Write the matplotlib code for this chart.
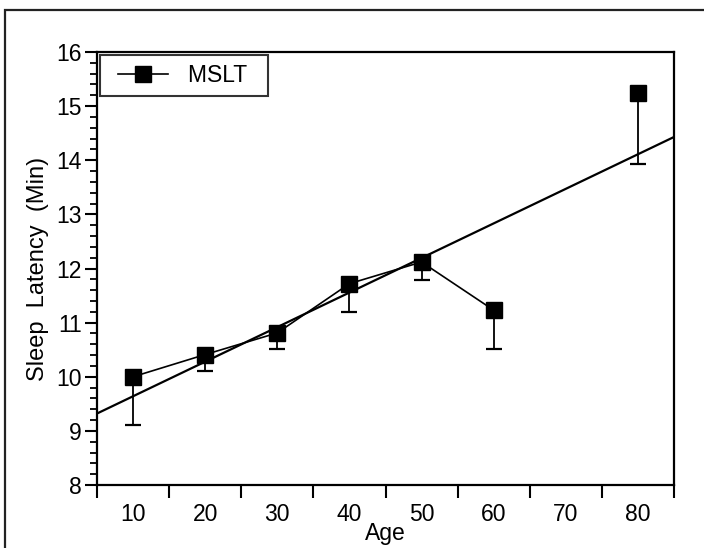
import numpy as np
import matplotlib
matplotlib.use("Agg")
import matplotlib.pyplot as plt
from matplotlib.patches import Rectangle
from matplotlib.ticker import MultipleLocator, FixedLocator
from matplotlib.legend_handler import HandlerLine2D

plt.rcParams['font.family'] = ['Liberation Sans', 'DejaVu Sans']

# values
ages = [10, 20, 30, 40, 50, 60, 70, 80]
mslt_mean = [10.0, 10.41, 10.81, 11.72, 12.12, 11.23, np.nan, 15.24]
mslt_lower = [9.10, 10.10, 10.51, 11.19, 11.78, 10.52, np.nan, 13.93]
age_labels = ["10", "20", "30", "40", "50", "60", "70", "80"]

x = np.array(ages, dtype=float)
y = np.array(mslt_mean)
lo = np.array(mslt_lower)
err_down = y - lo
err = np.vstack([err_down, np.zeros_like(err_down)])

# linear fit on the available group means
ok = ~np.isnan(y)
slope, intercept = np.polyfit(x[ok], y[ok], 1)

fig = plt.figure(figsize=(7.04, 5.48), dpi=100)
ax = fig.add_axes([97 / 704, 1 - 485 / 548, 577 / 704, 433 / 548])

xs = np.array([5, 85])
ax.plot(xs, intercept + slope * xs, color="black", lw=1.6, zorder=2)

# lower-only error bars, cap only at the bottom end
ax.errorbar(x, y, yerr=err, fmt="none", ecolor="black", elinewidth=1.3,
            capsize=0, zorder=3)
ax.plot(x, lo, ls="none", marker="_", markersize=12, markeredgewidth=1.6,
        color="black", zorder=3)
ax.plot(x, y, color="black", lw=1.2, marker="s", markersize=12,
        markerfacecolor="black", markeredgecolor="black", label="MSLT  ", zorder=4)

ax.set_xlim(5, 85)
ax.set_ylim(8, 16)

ax.xaxis.set_major_locator(FixedLocator(np.arange(5, 86, 10)))
ax.xaxis.set_minor_locator(FixedLocator(ages))
ax.set_xticklabels([], minor=False)
ax.set_xticklabels(age_labels, minor=True)
ax.tick_params(axis="x", which="major", direction="out", length=9, width=1.5)
ax.tick_params(axis="x", which="minor", length=0, labelsize=16.5, pad=13)

ax.yaxis.set_major_locator(MultipleLocator(1))
ax.yaxis.set_minor_locator(MultipleLocator(0.2))
ax.tick_params(axis="y", which="major", direction="out", length=9, width=1.5,
               labelsize=16.5, pad=2)
ax.tick_params(axis="y", which="minor", direction="out", length=5, width=1.3)

for s in ax.spines.values():
    s.set_linewidth(1.6)

ax.set_ylabel("Sleep  Latency  (Min)", fontsize=17)
ax.yaxis.set_label_coords(-0.084, 0.5)
ax.set_xlabel("Age", fontsize=16.5, labelpad=-3)

leg = ax.legend(loc="upper left", bbox_to_anchor=(0.005, 0.993), fontsize=16.5,
                frameon=True, fancybox=False, handlelength=2.58,
                borderpad=0.39, handletextpad=0.87, borderaxespad=0,
                handler_map={plt.Line2D: HandlerLine2D(xpad=0.39)})
leg.get_frame().set_edgecolor("black")
leg.get_frame().set_linewidth(1.5)

# page frame around the figure
fig.patches.append(Rectangle((5 / 704, -0.1), 1.2, 1 - 10.5 / 548 + 0.1,
                             transform=fig.transFigure, fill=False,
                             edgecolor="#222222", linewidth=1.6))

fig.savefig("out.png", dpi=100)
